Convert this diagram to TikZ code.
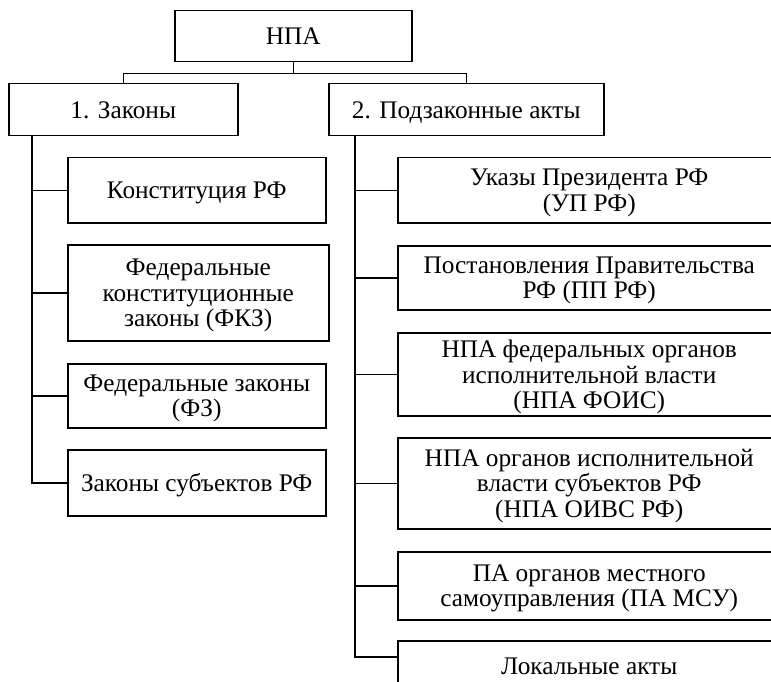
\documentclass[tikz,border=0pt]{standalone}
\usepackage{fontspec}
\setmainfont{Liberation Serif}
\usetikzlibrary{calc}
\begin{document}
\begin{tikzpicture}[x=1pt,y=-1pt,
  box/.style={draw, line width=1.5pt, rectangle, inner sep=0pt, anchor=north west,
    align=center, text depth=0pt, font=\fontsize{25.3}{25.5}\selectfont},
  conn/.style={line width=1.5pt}]
\useasboundingbox (0,0) rectangle (771,682);
\clip (0,0) rectangle (771,682);
% top level
\node[box, minimum width=237pt, minimum height=51pt] (npa) at (174,10) {НПА};
\node[box, minimum width=229pt, minimum height=52pt] (zak) at (8,83) {1. Законы};
\node[box, minimum width=275pt, minimum height=52pt] (podz) at (328,83) {2. Подзаконные акты};
% left children
\node[box, minimum width=258pt, minimum height=65pt] (konst) at (67,157) {Конституция РФ};
\node[box, minimum width=261pt, minimum height=96pt] (fkz) at (67,244) {Федеральные\\конституционные\\законы (ФКЗ)};
\node[box, minimum width=258pt, minimum height=64pt] (fz) at (67,363) {Федеральные законы\\(ФЗ)};
\node[box, minimum width=258pt, minimum height=66pt] (subj) at (67,449) {Законы субъектов РФ};
% right children
\node[box, minimum width=383pt, minimum height=65pt] (ukaz) at (397,157) {Указы Президента РФ\\(УП РФ)};
\node[box, minimum width=383pt, minimum height=64pt] (post) at (397,245) {Постановления Правительства\\РФ (ПП РФ)};
\node[box, minimum width=383pt, minimum height=83pt] (foiv) at (397,332) {НПА федеральных органов\\исполнительной власти\\(НПА ФОИС)};
\node[box, minimum width=383pt, minimum height=91pt] (oivs) at (397,437) {НПА органов исполнительной\\власти субъектов РФ\\(НПА ОИВС РФ)};
\node[box, minimum width=383pt, minimum height=68pt] (msu) at (397,551) {ПА органов местного\\самоуправления (ПА МСУ)};
\node[box, minimum width=383pt, minimum height=50pt] (loc) at (397,640) {Локальные акты};
% connectors
\draw[conn] (npa.south) -- ++(0,11) -| (zak.north);
\draw[conn] (npa.south) -- ++(0,11) -| (podz.north);
\coordinate (lt) at ($(zak.south west)+(24,0)$);
\coordinate (rt) at ($(podz.south west)+(27,0)$);
\coordinate (locin) at ($(loc.north west)+(0,17)$);
\draw[conn] (lt) |- (subj.west);
\draw[conn] (lt |- konst.west) -- (konst.west);
\draw[conn] (lt |- fkz.west) -- (fkz.west);
\draw[conn] (lt |- fz.west) -- (fz.west);
\draw[conn] (rt) |- (locin);
\draw[conn] (rt |- ukaz.west) -- (ukaz.west);
\draw[conn] (rt |- post.west) -- (post.west);
\draw[conn] (rt |- foiv.west) -- (foiv.west);
\draw[conn] (rt |- oivs.west) -- (oivs.west);
\draw[conn] (rt |- msu.west) -- (msu.west);
\end{tikzpicture}
\end{document}
